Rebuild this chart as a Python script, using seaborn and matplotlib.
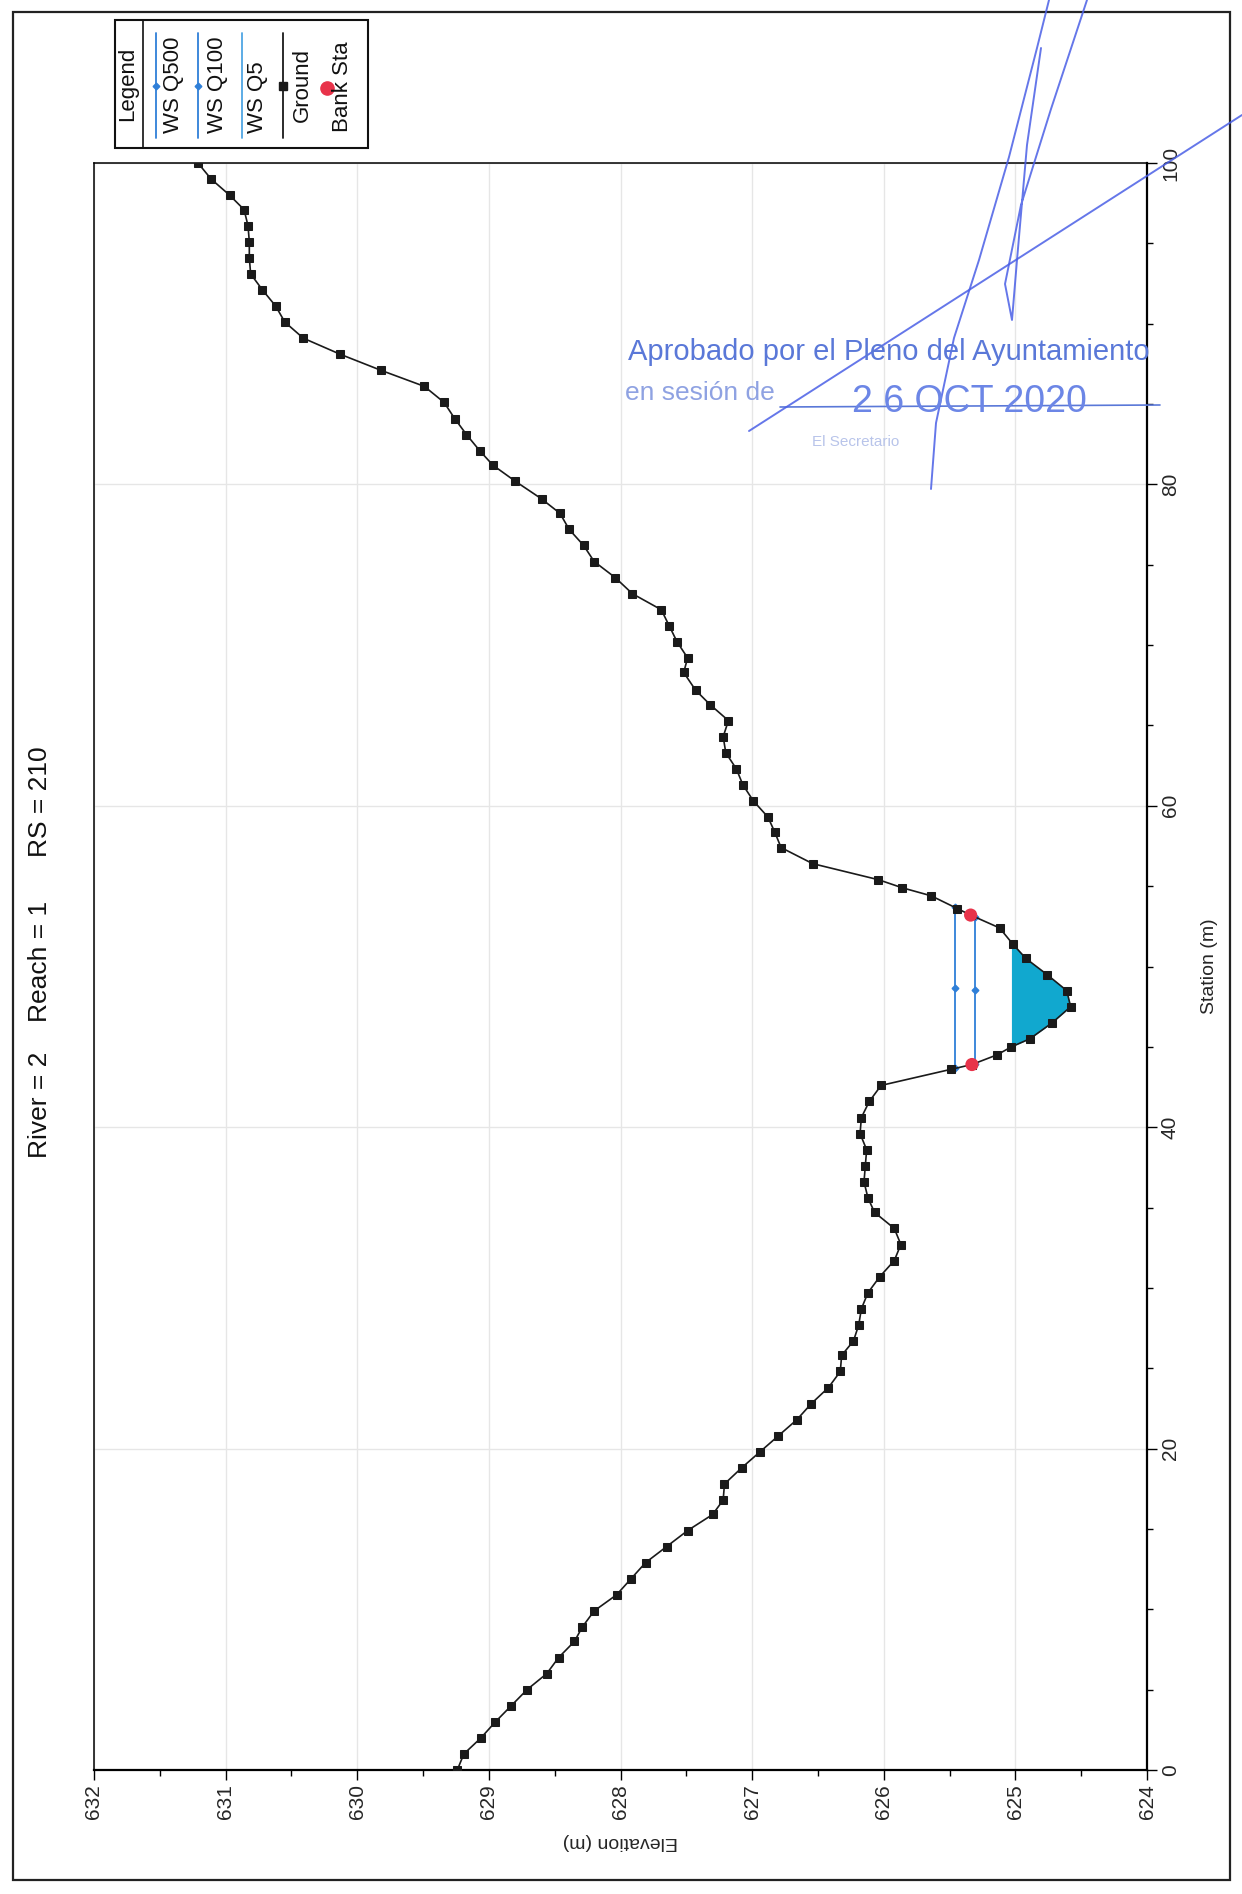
import matplotlib

matplotlib.use("Agg")
import matplotlib.pyplot as plt
import numpy as np
import pandas as pd
import seaborn as sns
from matplotlib.patches import Rectangle
from matplotlib.ticker import MultipleLocator

# Cross-section ground survey (station m, elevation m)
station = [
    0.0, 1.0, 2.0, 3.0, 4.0, 5.0, 6.0, 7.0, 8.0, 8.9, 9.9, 10.9, 11.9, 12.9, 13.9,
    14.9, 15.9, 16.8, 17.8, 18.8, 19.8, 20.8, 21.8, 22.8, 23.8, 24.8, 25.8, 26.7,
    27.7, 28.7, 29.7, 30.7, 31.7, 32.7, 33.7, 34.7, 35.6, 36.6, 37.6, 38.6, 39.6,
    40.6, 41.6, 42.6, 43.6, 43.9, 44.5, 45.0, 45.5, 46.5, 47.5, 48.5, 49.5, 50.5,
    51.4, 52.4, 53.2, 53.6, 54.4, 54.9, 55.4, 56.4, 57.4, 58.4, 59.3, 60.3, 61.3,
    62.3, 63.3, 64.3, 65.3, 66.3, 67.2, 68.3, 69.2, 70.2, 71.2, 72.2, 73.2, 74.2,
    75.2, 76.2, 77.2, 78.2, 79.1, 80.2, 81.2, 82.1, 83.1, 84.1, 85.1, 86.1, 87.1,
    88.1, 89.1, 90.1, 91.1, 92.1, 93.1, 94.1, 95.1, 96.1, 97.1, 98.0, 99.0, 100.0,
]
ground_elev = [
    629.24, 629.19, 629.06, 628.95, 628.83, 628.71, 628.56, 628.47, 628.35, 628.29,
    628.20, 628.03, 627.92, 627.81, 627.65, 627.49, 627.30, 627.22, 627.21, 627.08,
    626.94, 626.80, 626.66, 626.55, 626.42, 626.33, 626.32, 626.23, 626.19, 626.17,
    626.12, 626.03, 625.92, 625.87, 625.92, 626.07, 626.12, 626.15, 626.14, 626.13,
    626.18, 626.17, 626.11, 626.02, 625.49, 625.33, 625.14, 625.03, 624.89, 624.72,
    624.58, 624.61, 624.76, 624.92, 625.02, 625.12, 625.34, 625.44, 625.64, 625.86,
    626.04, 626.54, 626.78, 626.83, 626.88, 626.99, 627.07, 627.12, 627.20, 627.22,
    627.18, 627.32, 627.43, 627.52, 627.49, 627.57, 627.63, 627.69, 627.91, 628.04,
    628.20, 628.28, 628.39, 628.46, 628.60, 628.80, 628.97, 629.07, 629.17, 629.26,
    629.34, 629.49, 629.82, 630.13, 630.41, 630.55, 630.62, 630.72, 630.81, 630.82,
    630.82, 630.83, 630.86, 630.97, 631.11, 631.21,
]
bank_station = [43.9, 53.2]
bank_elev = [625.33, 625.34]
ws_names = ["WS Q500", "WS Q100", "WS Q5"]
ws_elev = [625.46, 625.31, 625.03]

title_parts = ["River = 2", "Reach = 1", "RS = 210"]
legend_labels = ["WS Q500", "WS Q100", "WS Q5", "Ground", "Bank Sta"]
stamp_text = ["Aprobado por el Pleno del Ayuntamiento", "en sesión de", "2 6 OCT 2020", "El Secretario"]

# pen strokes of the signatures over the stamp (page pixels)
pen_strokes = [
    [(749, 431), (1242, 115)],
    [(931, 489), (936, 423), (954, 338), (979, 260), (1009, 157), (1037, 48), (1049, 0)],
    [(1087, 0), (1051, 109), (1021, 205), (1005, 284), (1012, 320), (1017, 260), (1027, 145), (1041, 48)],
]

W, H = 1242, 1894
WS_BLUE = "#2F7FD8"
WS5_BLUE = "#4FA6E4"
WATER = "#11A8CF"
GROUND = "#1a1a1a"
BANK_RED = "#E8334A"
STAMP = "#5A78D8"
INK = "#4A5FE6"

sns.set_theme(style="white")
plt.rcParams["font.family"] = ["Liberation Sans", "DejaVu Sans"]


def ws_extent(level):
    sta = np.asarray(station)
    z = np.asarray(ground_elev)
    i0 = int(np.argmin(z))
    i = i0
    while i > 0 and z[i] < level:
        i -= 1
    s_lo = np.interp(level, [z[i + 1], z[i]], [sta[i + 1], sta[i]])
    j = i0
    while j < len(z) - 1 and z[j] < level:
        j += 1
    s_hi = np.interp(level, [z[j - 1], z[j]], [sta[j - 1], sta[j]])
    return s_lo, s_hi, sta[i + 1:j], z[i + 1:j]


fig = plt.figure(figsize=(W / 100, H / 100), dpi=100)
fig.patch.set_facecolor("white")

left, right, top, bottom = 94, 1147, 163, 1770
ax = fig.add_axes([left / W, 1 - bottom / H, (right - left) / W, (bottom - top) / H])

ground = pd.DataFrame({"Station": station, "Elevation": ground_elev})

# Q5 water body
s_lo, s_hi, s_in, z_in = ws_extent(ws_elev[2])
ax.fill_betweenx(
    np.concatenate([[s_lo], s_in, [s_hi]]),
    np.concatenate([[ws_elev[2]], z_in, [ws_elev[2]]]),
    ws_elev[2],
    color=WATER,
    lw=0,
    zorder=2,
)

# Q500 / Q100 water surface lines
for lvl in ws_elev[:2]:
    a, b, _, _ = ws_extent(lvl)
    ax.plot([lvl, lvl, lvl], [a, (a + b) / 2, b], color=WS_BLUE, lw=1.3,
            marker="D", markersize=3.4, zorder=3)

sns.lineplot(data=ground, x="Elevation", y="Station", orient="y", sort=False,
             estimator=None, color=GROUND, lw=1.2, marker="s", markersize=5.4,
             markeredgecolor=GROUND, ax=ax, zorder=4)

sns.scatterplot(x=bank_elev, y=bank_station, color=BANK_RED, s=90, edgecolor="none",
                ax=ax, zorder=5)

ax.set_xlim(632, 624)
ax.set_ylim(0, 100)
ax.xaxis.set_major_locator(MultipleLocator(1))
ax.xaxis.set_minor_locator(MultipleLocator(0.5))
ax.yaxis.set_major_locator(MultipleLocator(20))
ax.yaxis.set_minor_locator(MultipleLocator(5))
ax.yaxis.tick_right()
ax.yaxis.set_label_position("right")
ax.grid(True, which="major", color="#e6e6e6", lw=1.0)
ax.set_axisbelow(True)

ax.tick_params(which="both", direction="out", color="black", width=1.0,
               bottom=True, right=True, left=False, top=False)
ax.tick_params(which="major", length=7, pad=3)
ax.tick_params(which="minor", length=4)
ax.tick_params(axis="x", labelrotation=90, labelsize=15)
ax.tick_params(axis="y", labelrotation=90, labelsize=15)
for lab in ax.get_yticklabels():
    lab.set_va("center")

for side, spine in ax.spines.items():
    spine.set_color("black")
    spine.set_linewidth(1.6 if side in ("bottom", "right") else 1.1)

ax.set_xlabel("Elevation (m)", rotation=180, fontsize=14, labelpad=10)
ax.set_ylabel("Station (m)", rotation=90, fontsize=14, labelpad=15)

# page overlay: title, legend, frame, stamp
page = fig.add_axes([0, 0, 1, 1], zorder=5)
page.set_xlim(0, W)
page.set_ylim(H, 0)
page.axis("off")
page.patch.set_alpha(0)

page.add_patch(Rectangle((13, 12), 1217, 1868, fill=False, ec="#222222", lw=1.6))

for txt, yc in zip(title_parts, [1105, 961, 802]):
    page.text(40, yc, txt, rotation=90, ha="center", va="center", fontsize=19, color="#111111")

# legend box
page.add_patch(Rectangle((115, 20), 253, 128, fill=False, ec="#111111", lw=1.5))
page.plot([143, 143], [20, 148], color="#111111", lw=1.2)
page.text(128, 84, "Legend", rotation=90, ha="center", va="center", fontsize=16, color="#111111")

line_x = [156, 198, 242, 283]
text_x = [173, 217, 257, 302, 343]
text_bottom = [133, 133, 133, 122, 132]
styles = [
    dict(color=WS_BLUE, marker="D", markersize=3.4),
    dict(color=WS_BLUE, marker="D", markersize=3.4),
    dict(color=WS5_BLUE, marker=None),
    dict(color=GROUND, marker="s", markersize=5.4),
]
for lx, st in zip(line_x, styles):
    page.plot([lx, lx], [33, 138], lw=1.3, color=st["color"])
    if st["marker"]:
        page.plot([lx], [86], ls="none", color=st["color"], marker=st["marker"],
                  markersize=st["markersize"])
page.plot([327], [88], ls="none", marker="o", color=BANK_RED, markersize=9.5)
for txt, tx, tb in zip(legend_labels, text_x, text_bottom):
    page.text(tx, tb, txt, rotation=90, ha="center", va="bottom", fontsize=16, color="#111111")

# approval stamp and signatures
page.text(628, 352, stamp_text[0], ha="left", va="center", fontsize=21, color=STAMP)
page.text(625, 393, stamp_text[1], ha="left", va="center", fontsize=19, color="#8FA2E2")
page.plot([780, 1160], [407, 405], color=STAMP, lw=1.2)
page.text(852, 402, stamp_text[2], ha="left", va="center", fontsize=27, color="#6C86E6")
page.text(812, 442, stamp_text[3], ha="left", va="center", fontsize=11, color="#B8C4EA")
for stroke in pen_strokes:
    xs, ys = zip(*stroke)
    page.plot(xs, ys, color=INK, lw=1.4, alpha=0.85)

fig.savefig("out.png", dpi=100, facecolor="white")
